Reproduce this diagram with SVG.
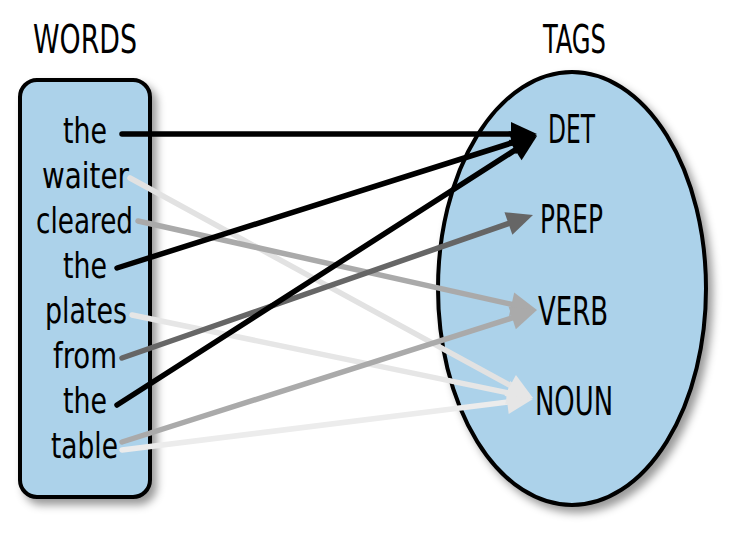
<svg xmlns="http://www.w3.org/2000/svg" width="746" height="550" viewBox="0 0 746 550">
<style>
.t{font-family:"DejaVu Sans",sans-serif;font-stretch:condensed;fill:#000;}
.w{font-size:36px;}
.h{font-size:39px;}
.shape{fill:#acd2ea;stroke:#000;stroke-width:4;filter:url(#sh);}
.c{fill:none;stroke-width:5.5;stroke-linecap:round;}
</style>
<defs>
<filter id="sh" x="-20%" y="-20%" width="140%" height="140%">
<feDropShadow dx="5" dy="6" stdDeviation="4" flood-color="#000" flood-opacity="0.4"/>
</filter>
<marker id="mk" markerUnits="userSpaceOnUse" markerWidth="30" markerHeight="26" refX="4" refY="12" orient="auto" overflow="visible"><path d="M0,0 L26,12 L0,24 Z" fill="#000"/></marker>
<marker id="md" markerUnits="userSpaceOnUse" markerWidth="30" markerHeight="26" refX="4" refY="12" orient="auto" overflow="visible"><path d="M0,0 L26,12 L0,24 Z" fill="#666"/></marker>
<marker id="mg" markerUnits="userSpaceOnUse" markerWidth="30" markerHeight="26" refX="4" refY="12" orient="auto" overflow="visible"><path d="M0,0 L26,12 L0,24 Z" fill="#aaa"/></marker>
<marker id="ml" markerUnits="userSpaceOnUse" markerWidth="30" markerHeight="26" refX="4" refY="12" orient="auto" overflow="visible"><path d="M0,0 L26,12 L0,24 Z" fill="#e6e6e6"/></marker>
</defs>
<rect width="746" height="550" fill="#fff"/>
<text class="t h" x="33" y="53" textLength="104" lengthAdjust="spacingAndGlyphs">WORDS</text>
<text class="t h" x="543" y="53" textLength="63" lengthAdjust="spacingAndGlyphs">TAGS</text>
<g id="words">
<rect class="shape" x="20" y="80" width="130" height="417" rx="17"/>
<text class="t w" x="63" y="143" textLength="44" lengthAdjust="spacingAndGlyphs">the</text>
<text class="t w" x="42" y="188" textLength="87" lengthAdjust="spacingAndGlyphs">waiter</text>
<text class="t w" x="36" y="233" textLength="97" lengthAdjust="spacingAndGlyphs">cleared</text>
<text class="t w" x="63" y="278" textLength="44" lengthAdjust="spacingAndGlyphs">the</text>
<text class="t w" x="45" y="323" textLength="82" lengthAdjust="spacingAndGlyphs">plates</text>
<text class="t w" x="53" y="368" textLength="64" lengthAdjust="spacingAndGlyphs">from</text>
<text class="t w" x="63" y="413" textLength="44" lengthAdjust="spacingAndGlyphs">the</text>
<text class="t w" x="51" y="458" textLength="67" lengthAdjust="spacingAndGlyphs">table</text>
</g>
<g id="tags">
<ellipse class="shape" cx="572" cy="288.5" rx="134" ry="216.5"/>
<text class="t h" x="548" y="143" textLength="47" lengthAdjust="spacingAndGlyphs">DET</text>
<text class="t h" x="540" y="233" textLength="63" lengthAdjust="spacingAndGlyphs">PREP</text>
<text class="t h" x="538" y="325" textLength="70" lengthAdjust="spacingAndGlyphs">VERB</text>
<text class="t h" x="535" y="415" textLength="78" lengthAdjust="spacingAndGlyphs">NOUN</text>
</g>
<g id="connectors">
<line class="c" x1="122" y1="450" x2="511.2" y2="401.7" stroke="#ececec" marker-end="url(#ml)"/>
<line class="c" x1="132" y1="315" x2="511.5" y2="393.5" stroke="#e6e6e6" marker-end="url(#ml)"/>
<line class="c" x1="130" y1="178" x2="513.7" y2="387.5" stroke="#e2e2e2" marker-end="url(#ml)"/>
<line class="c" x1="138" y1="221" x2="515.5" y2="305.2" stroke="#aaa" marker-end="url(#mg)"/>
<line class="c" x1="122" y1="442" x2="516" y2="316.7" stroke="#aaa" marker-end="url(#mg)"/>
<line class="c" x1="122" y1="358" x2="512.2" y2="222.2" stroke="#666" marker-end="url(#md)"/>
<line class="c" x1="122" y1="134" x2="515" y2="134" stroke="#000" marker-end="url(#mk)"/>
<line class="c" x1="117" y1="268" x2="516" y2="141.6" stroke="#000" marker-end="url(#mk)"/>
<line class="c" x1="117" y1="405" x2="518.5" y2="147.9" stroke="#000" marker-end="url(#mk)"/>
</g>
</svg>
